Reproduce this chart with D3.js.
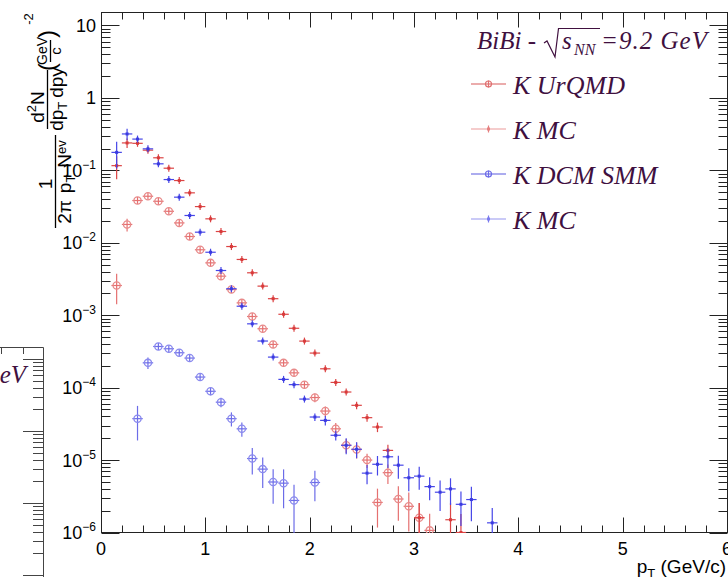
<!DOCTYPE html>
<html>
<head>
<meta charset="utf-8">
<script src="https://cdn.jsdelivr.net/npm/d3@7"></script>
<style>
body { margin: 0; background: #fff; }
svg { display: block; }
</style>
</head>
<body>
<div id="canvas"></div>
<script>
// pT bin centres (GeV/c)
var ptBins = [0.15, 0.25, 0.35, 0.45, 0.55, 0.65, 0.75, 0.85, 0.95, 1.05,
              1.15, 1.25, 1.35, 1.45, 1.55, 1.65, 1.75, 1.85, 1.95, 2.05,
              2.15, 2.25, 2.35, 2.45, 2.55, 2.65, 2.75, 2.85, 2.95, 3.05,
              3.15, 3.25, 3.35, 3.45, 3.55, 3.65, 3.75];

// K UrQMD (red, open marker)
var kUrqmd = [2.57e-3, 1.79e-2, 3.83e-2, 4.39e-2, 3.74e-2, 2.72e-2, 1.88e-2, 1.22e-2, 8.0e-3, 5.28e-3,
              3.46e-3, 2.26e-3, 1.48e-3, 9.6e-4, 6.5e-4, 3.95e-4, 2.2e-4, 1.6e-4, 1.1e-4, 7.3e-5,
              4.75e-5, 2.7e-5, 1.6e-5, 1.4e-5, 1.0e-5, 2.6e-6, 6.7e-6, 2.9e-6, 2.3e-6, 1.6e-6,
              1.07e-6, null, null, null, null, null, null];
var kUrqmdErr = [0.45, 0.2, 0.08, 0.06, 0.06, 0.06, 0.06, 0.06, 0.06, 0.06,
                 0.06, 0.06, 0.06, 0.06, 0.07, 0.08, 0.1, 0.1, 0.12, 0.14,
                 0.16, 0.2, 0.22, 0.25, 0.22, 0.55, 0.3, 0.5, 0.55, 0.6,
                 0.7, null, null, null, null, null, null];

// K MC (red, cross)
var kMcRed = [0.116, 0.239, 0.236, 0.19, 0.149, 0.107, 0.0723, 0.0489, 0.0316, 0.0214,
              0.0143, 8.87e-3, 5.88e-3, 3.85e-3, 2.52e-3, 1.69e-3, 1.03e-3, 6.6e-4, 4.39e-4, 3.0e-4,
              1.82e-4, 1.18e-4, 8.7e-5, 5.7e-5, 3.85e-5, 2.86e-5, 1.36e-5, null, null, 1.6e-6,
              null, null, 1.5e-6, 1.0e-6, null, null, null];
var kMcRedErr = [0.35, 0.15, 0.08, 0.05, 0.04, 0.04, 0.04, 0.04, 0.04, 0.04,
                 0.04, 0.04, 0.04, 0.05, 0.05, 0.05, 0.06, 0.06, 0.07, 0.08,
                 0.08, 0.1, 0.1, 0.12, 0.12, 0.15, 0.2, null, null, 0.6,
                 null, null, 0.7, 0.8, null, null, null];

// K DCM SMM (blue, open marker)
var kDcm = [null, null, 3.73e-5, 2.2e-4, 3.7e-4, 3.44e-4, 3.03e-4, 2.56e-4, 1.4e-4, 8.9e-5,
            6.3e-5, 3.73e-5, 2.7e-5, 1.05e-5, 7.5e-6, 4.98e-6, 4.8e-6, 2.77e-6, null, 4.9e-6,
            null, null, null, null, null, null, null, null, null, null,
            null, null, null, null, null, null, null];
var kDcmErr = [null, null, 0.5, 0.18, 0.1, 0.1, 0.1, 0.1, 0.12, 0.12,
               0.15, 0.22, 0.22, 0.4, 0.45, 0.5, 0.55, 0.65, null, 0.45,
               null, null, null, null, null, null, null, null, null, null,
               null, null, null, null, null, null, null];

// K MC (blue, cross)
var kMcBlue = [0.177, 0.318, 0.27, 0.198, 0.123, 0.0746, 0.0426, 0.0238, 0.014, 7.4e-3,
               4.14e-3, 2.32e-3, 1.33e-3, 7.6e-4, 4.4e-4, 2.64e-4, 1.3e-4, 1.1e-4, 6.95e-5, 3.93e-5,
               3.53e-5, 2.2e-5, 1.6e-5, 1.41e-5, 6.6e-6, 8.75e-6, 1.11e-5, 8.5e-6, 5.7e-6, 6.0e-6,
               4.3e-6, 3.6e-6, 4.0e-6, 2.45e-6, 2.85e-6, null, 1.36e-6];
var kMcBlueErr = [0.4, 0.18, 0.1, 0.05, 0.04, 0.04, 0.04, 0.04, 0.04, 0.04,
                  0.04, 0.04, 0.05, 0.05, 0.06, 0.07, 0.08, 0.1, 0.1, 0.12,
                  0.15, 0.15, 0.25, 0.25, 0.3, 0.3, 0.3, 0.35, 0.35, 0.35,
                  0.35, 0.45, 0.4, 0.5, 0.5, null, 0.6];

var legendLabels = ["K UrQMD", "K MC", "K DCM SMM", "K MC"];
var xTickLabels = [0, 1, 2, 3, 4, 5, 6];
var yDecades = [-6, -5, -4, -3, -2, -1, 0, 1];

var W = 728, H = 577;
var svg = d3.select("#canvas").append("svg")
    .attr("width", W)
    .attr("height", H)
    .style("font-family", "'Liberation Sans', Arial, sans-serif");

var x = d3.scaleLinear().domain([0, 6]).range([101, 727]);
var y = d3.scaleLog().domain([1e-6, 15.1]).range([532.5, 12.5]);

var axisCol = "#222";
var latexCol = "#40103f";

// ---- leftover of neighbouring pad (left edge) ----
var pad = svg.append("g");
var yL = d3.scaleLog().domain([1e-6, 1.47e-3]).range([575, 347]);
var xL = d3.scaleLinear().domain([5.6, 6]).range([1, 45]);
pad.append("path")
    .attr("d", "M-1,347.5H43.5V580")
    .attr("fill", "none").attr("stroke", "#444");
[5.6, 5.8].forEach(function (v) {
    pad.append("line")
        .attr("x1", Math.round(xL(v)) + 0.5).attr("x2", Math.round(xL(v)) + 0.5)
        .attr("y1", 347).attr("y2", 354)
        .attr("stroke", "#444");
});
for (var k = -6; k <= -3; k++) {
    for (var m = 1; m <= 9; m++) {
        var v = m * Math.pow(10, k);
        if (v < 1e-6 || v > 1.47e-3) continue;
        var yy = Math.round(yL(v)) + 0.5;
        pad.append("line")
            .attr("x1", 43).attr("x2", m == 1 ? 23 : 33)
            .attr("y1", yy).attr("y2", yy)
            .attr("stroke", "#444");
    }
}
pad.append("text")
    .attr("x", 26).attr("y", 383)
    .attr("text-anchor", "end")
    .style("font-family", "'Liberation Serif', 'Times New Roman', serif")
    .style("font-style", "italic")
    .style("font-size", "25px")
    .attr("fill", latexCol)
    .text("=9.2 GeV");

// ---- frame and axes ----
var frame = svg.append("g");
frame.append("rect")
    .attr("x", 101.5).attr("y", 12.5)
    .attr("width", 626).attr("height", 520)
    .attr("fill", "none").attr("stroke", axisCol);

var xt = x.ticks(30);
xt.forEach(function (v) {
    var major = Math.abs(v - Math.round(v)) < 1e-6;
    var xx = Math.round(x(v)) + 0.5;
    var len = major ? 15 : 7;
    frame.append("line")
        .attr("x1", xx).attr("x2", xx)
        .attr("y1", 532.5).attr("y2", 532.5 - len)
        .attr("stroke", axisCol);
    frame.append("line")
        .attr("x1", xx).attr("x2", xx)
        .attr("y1", 12.5).attr("y2", 12.5 + len)
        .attr("stroke", axisCol);
});
xTickLabels.forEach(function (v) {
    frame.append("text")
        .attr("x", x(v)).attr("y", 555)
        .attr("text-anchor", "middle")
        .style("font-size", "18px")
        .attr("fill", "#000")
        .text(v);
});

yDecades.forEach(function (k) {
    for (var m = 1; m <= 9; m++) {
        var v = m * Math.pow(10, k);
        if (v < 1e-6 || v > 15.1) continue;
        var yy = Math.round(y(v)) + 0.5;
        var len = m == 1 ? 18 : 9;
        frame.append("line")
            .attr("x1", 101.5).attr("x2", 101.5 + len)
            .attr("y1", yy).attr("y2", yy)
            .attr("stroke", axisCol);
        frame.append("line")
            .attr("x1", 727.5).attr("x2", 727.5 - len)
            .attr("y1", yy).attr("y2", yy)
            .attr("stroke", axisCol);
    }
    var t = frame.append("text")
        .attr("x", 96).attr("y", y(Math.pow(10, k)) + 6.5)
        .attr("text-anchor", "end")
        .style("font-size", "18px")
        .attr("fill", "#000");
    if (k == 0) t.text("1");
    else if (k == 1) t.text("10");
    else {
        t.append("tspan").text("10");
        t.append("tspan").attr("dy", -8).style("font-size", "12px").text("\u2212" + (-k));
    }
});

// x title
var xTitle = frame.append("text")
    .attr("x", 726).attr("y", 573)
    .attr("text-anchor", "end")
    .style("font-size", "19px")
    .attr("fill", "#000");
xTitle.append("tspan").text("p");
xTitle.append("tspan").attr("dy", 5).style("font-size", "13px").text("T");
xTitle.append("tspan").attr("dy", -5).text(" (GeV/c)");

// y title (rotated LaTeX-like pieces)
var yt = svg.append("g").attr("fill", "#000").style("font-size", "19px");
function rotText(X, Y, anchor) {
    return yt.append("text")
        .attr("transform", "translate(" + X + "," + Y + ") rotate(-90)")
        .attr("text-anchor", anchor || "middle");
}
function vbar(X, y1, y2) {
    yt.append("line")
        .attr("x1", X).attr("x2", X).attr("y1", y1).attr("y2", y2)
        .attr("stroke", "#000").attr("stroke-width", 1.3);
}
// 1 / (2pi pT Nev)
rotText(52, 184).text("1");
vbar(55.5, 135, 228);
var den1 = rotText(71, 182);
den1.append("tspan").text("2\u03c0");
den1.append("tspan").attr("dx", 7).text("p");
den1.append("tspan").attr("dy", 4).style("font-size", "13px").text("T");
den1.append("tspan").attr("dy", -4).attr("dx", 7).text("N");
den1.append("tspan").attr("dy", -5).style("font-size", "13px").text("ev");
// d2N / dpT dpy
var num2 = rotText(44, 107);
num2.append("tspan").text("d");
num2.append("tspan").attr("dy", -8).style("font-size", "13px").text("2");
num2.append("tspan").attr("dy", 8).text("N");
vbar(47.5, 70, 129);
var den2 = rotText(63, 99);
den2.append("tspan").text("dp");
den2.append("tspan").attr("dy", 4).style("font-size", "13px").text("T");
den2.append("tspan").attr("dy", -4).attr("dx", 4).text("dpy");
// (GeV/c)^-2
rotText(55, 71, "start").style("font-size", "24px").text("(");
rotText(55, 38, "start").style("font-size", "24px").text(")");
rotText(47, 51).style("font-size", "14px").text("GeV");
vbar(50.5, 40, 62);
rotText(61, 51).style("font-size", "15px").text("c");
rotText(33, 19).style("font-size", "13px").text("-2");

// ---- data points ----
svg.append("clipPath").attr("id", "plotClip")
    .append("rect").attr("x", 101).attr("y", 12).attr("width", 627).attr("height", 521);
var plot = svg.append("g").attr("clip-path", "url(#plotClip)");

function drawSeries(vals, errs, color, mcol, open) {
    var pts = [];
    ptBins.forEach(function (p, i) {
        if (vals[i] != null) pts.push({ pt: p, v: vals[i], e: errs[i] || 0 });
    });
    var g = plot.append("g");
    var sel = g.selectAll("g").data(pts).enter().append("g");
    sel.append("line")
        .attr("x1", function (d) { return x(d.pt - 0.05); })
        .attr("x2", function (d) { return x(d.pt + 0.05); })
        .attr("y1", function (d) { return y(d.v); })
        .attr("y2", function (d) { return y(d.v); })
        .attr("stroke", color).attr("stroke-width", 1.2);
    sel.append("line")
        .attr("x1", function (d) { return x(d.pt); })
        .attr("x2", function (d) { return x(d.pt); })
        .attr("y1", function (d) { return Math.min(y(d.v * (1 + d.e)), y(d.v) - 3.5); })
        .attr("y2", function (d) {
            var lo = d.v * (1 - d.e);
            var yy = lo > 0 ? y(lo) : 600;
            return Math.max(yy, y(d.v) + 3.5);
        })
        .attr("stroke", color).attr("stroke-width", 1.2);
    if (open) {
        sel.append("circle")
            .attr("cx", function (d) { return x(d.pt); })
            .attr("cy", function (d) { return y(d.v); })
            .attr("r", 3.6)
            .attr("fill", "none")
            .attr("stroke", mcol).attr("stroke-width", 1.3);
    } else {
        sel.append("rect")
            .attr("x", function (d) { return x(d.pt) - 1.5; })
            .attr("y", function (d) { return y(d.v) - 1.5; })
            .attr("width", 3).attr("height", 3)
            .attr("fill", mcol);
    }
}

drawSeries(kUrqmd, kUrqmdErr, "#e57070", "#e88a8a", true);
drawSeries(kDcm, kDcmErr, "#6c6ce8", "#8a8aee", true);
drawSeries(kMcRed, kMcRedErr, "#dc4444", "#d83a3a", false);
drawSeries(kMcBlue, kMcBlueErr, "#4646e8", "#3a3ae0", false);

// ---- legend ----
var leg = svg.append("g")
    .style("font-family", "'Liberation Serif', 'Times New Roman', serif")
    .style("font-style", "italic")
    .attr("fill", latexCol);

var hdrY = 49;
leg.append("text").attr("x", 477).attr("y", hdrY).style("font-size", "25px").text("BiBi -");
leg.append("path")
    .attr("d", "M544,43 L547,41 L555,57 L558.5,28.5 L600,28.5")
    .attr("fill", "none").attr("stroke", latexCol).attr("stroke-width", 1.2);
leg.append("text").attr("x", 562).attr("y", hdrY).style("font-size", "25px").text("s");
leg.append("text").attr("x", 574).attr("y", hdrY + 6).style("font-size", "16px").text("NN");
leg.append("text").attr("x", 601).attr("y", hdrY)
    .style("font-size", "25px").attr("textLength", 106).text("=9.2 GeV");

var legLine = ["#d85a5a", "#eb9a9a", "#5a5ae0", "#9595f0"];
var legMark = ["#e07070", "#e58080", "#6c6ce8", "#7a7aee"];
var legOpen = [true, false, true, false];
var legY = [84, 129, 174, 219];
legendLabels.forEach(function (lab, i) {
    var ly = legY[i];
    leg.append("line")
        .attr("x1", 471).attr("x2", 506).attr("y1", ly).attr("y2", ly)
        .attr("stroke", legLine[i]).attr("stroke-width", 1.2);
    leg.append("line")
        .attr("x1", 488.5).attr("x2", 488.5).attr("y1", ly - 3.5).attr("y2", ly + 3.5)
        .attr("stroke", legMark[i]).attr("stroke-width", 1.2);
    if (legOpen[i]) {
        leg.append("circle").attr("cx", 488.5).attr("cy", ly).attr("r", 3)
            .attr("fill", "none").attr("stroke", legMark[i]).attr("stroke-width", 1.2);
    } else {
        leg.append("rect").attr("x", 487).attr("y", ly - 1.5).attr("width", 3).attr("height", 3)
            .attr("fill", legMark[i]);
    }
    leg.append("text")
        .attr("x", 513).attr("y", ly + 10)
        .style("font-size", "26px")
        .text(lab);
});
</script>
</body>
</html>
